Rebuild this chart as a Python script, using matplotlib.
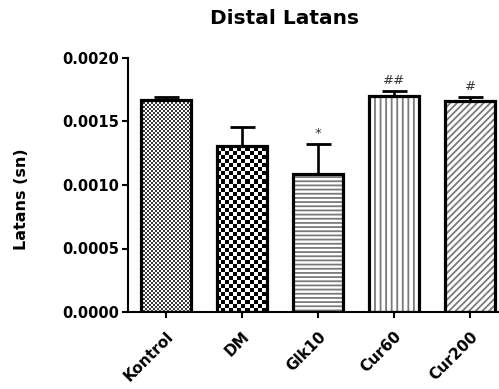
import numpy as np
import matplotlib
matplotlib.use("Agg")
import matplotlib.pyplot as plt
from matplotlib.colors import ListedColormap

groups = ["Kontrol", "DM", "Glk10", "Cur60", "Cur200"]
means = [0.00167, 0.00131, 0.00109, 0.00170, 0.00166]
sems = [0.00002, 0.00015, 0.00023, 0.00004, 0.00003]
marks = ["", "", "*", "##", "#"]
yticks = [0.0000, 0.0005, 0.0010, 0.0015, 0.0020]

plt.rcParams["font.family"] = "DejaVu Sans"
plt.rcParams["hatch.linewidth"] = 1.3

fig = plt.figure(figsize=(4.99, 3.89), dpi=100)
ax = fig.add_axes([128 / 499, 77 / 389, 371 / 499, 254 / 389])
ax.set_xlim(-0.5, 4.38)
ax.set_ylim(0, 0.0020)

x = np.arange(len(groups))
width = 0.66

# fill styles: checkerboard (cell size px, dark colour) or hatch
fills = [("check", (2, "#3c3c3c")), ("check", (4, "#000000")),
         ("hatch", "----"), ("hatch", "|||"), ("hatch", "/////")]

fig.canvas.draw()
to_px = ax.transData
for xi, m, (kind, spec) in zip(x, means, fills):
    if kind == "hatch":
        ax.bar(xi, m, width, color="white", edgecolor="#7a7a7a", hatch=spec,
               linewidth=0, zorder=2)
    else:
        cell, dark = spec
        base = ax.bar(xi, m, width, color="white", linewidth=0, zorder=2)[0]
        (x0, y0), (x1, y1) = to_px.transform([(xi - width / 2, 0), (xi + width / 2, m)])
        nx = max(1, int(round((x1 - x0) / cell)))
        ny = max(1, int(round((y1 - y0) / cell)))
        board = (np.add.outer(np.arange(ny), np.arange(nx)) % 2).astype(float)
        im = ax.imshow(board, cmap=ListedColormap([dark, "white"]), vmin=0, vmax=1,
                       interpolation="nearest",
                       extent=(xi - width / 2, xi - width / 2 + nx * cell * (width / (x1 - x0)),
                               0, ny * cell * (m / (y1 - y0))),
                       aspect="auto", zorder=2.5)
        im.set_clip_path(base)
    ax.bar(xi, m, width, color="none", edgecolor="black", linewidth=2.3, zorder=3)

ax.errorbar(x, means, yerr=[np.zeros(len(sems)), sems], fmt="none", ecolor="black",
            elinewidth=1.9, capsize=9, capthick=2.0, zorder=1)

for xi, m, s, t in zip(x, means, sems, marks):
    if t:
        ax.annotate(t, (xi, m + s), xytext=(0, 3), textcoords="offset points",
                    ha="center", va="bottom", fontsize=9.5, color="#333333")

ax.set_aspect("auto")
ax.set_xlim(-0.5, 4.38)
ax.set_ylim(0, 0.0020)

for s in ("top", "right"):
    ax.spines[s].set_visible(False)
for s in ("left", "bottom"):
    ax.spines[s].set_linewidth(1.5)

ax.set_yticks(yticks)
ax.set_yticklabels([f"{v:.4f}" for v in yticks], fontsize=10.5, fontweight="bold")
ax.set_xticks(x)
ax.set_xticklabels(groups, fontsize=11, fontweight="bold", rotation=45,
                   ha="right", va="top", rotation_mode="anchor")
ax.tick_params(axis="both", direction="out", length=4, width=1.5, pad=2.5)
ax.tick_params(axis="x", pad=8)

fig.text(22 / 499, 190 / 389, "Latans (sn)", rotation=90, ha="center", va="center",
         fontsize=11.5, fontweight="bold")
fig.text(284 / 499, 1 - 18 / 389, "Distal Latans", ha="center", va="center",
         fontsize=14.5, fontweight="bold")

fig.savefig("out.png", dpi=100)
